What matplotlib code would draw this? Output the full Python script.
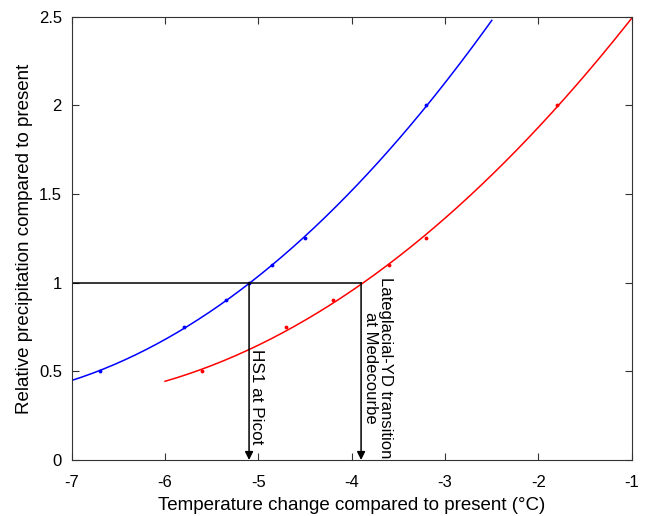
import matplotlib
matplotlib.use("Agg")
import matplotlib.pyplot as plt
import numpy as np

plt.rcParams['font.family'] = ['Liberation Sans', 'DejaVu Sans']
plt.rcParams['axes.unicode_minus'] = False

# data
blue_x = [-6.7, -5.8, -5.35, -5.1, -4.85, -4.5, -3.2]
blue_y = [0.5, 0.75, 0.9, 1.0, 1.1, 1.25, 2.0]
red_x = [-5.6, -4.7, -4.2, -3.6, -3.2, -1.8]
red_y = [0.5, 0.75, 0.9, 1.1, 1.25, 2.0]

blue_range = (-7.0, -2.5)
red_range = (-6.0, -1.0)

hs1_x = -5.1
yd_x = -3.9
ref_y = 1.0

fig = plt.figure(figsize=(6.46, 5.16), dpi=100)
ax = fig.add_axes([0.111, 0.1085, 0.867, 0.859])

# quadratic fits through the points
for xs, ys, rng, col in [(blue_x, blue_y, blue_range, 'blue'),
                         (red_x, red_y, red_range, 'red')]:
    p = np.polyfit(xs, ys, 2)
    xx = np.linspace(rng[0], rng[1], 200)
    ax.plot(xx, np.polyval(p, xx), color=col, linewidth=1.1)
    ax.plot(xs, ys, '.', color=col, markersize=3.5)

# reference lines and arrows
ax.plot([-7, yd_x], [ref_y, ref_y], color='black', linewidth=1.1)
for xv in [hs1_x, yd_x]:
    ax.annotate('', xy=(xv, 0), xytext=(xv, ref_y),
                arrowprops=dict(arrowstyle='-|>', color='black', lw=1.1,
                                mutation_scale=12, shrinkA=0, shrinkB=0))

ax.text(-5.02, 0.355, 'HS1 at Picot', rotation=-90, ha='center', va='center',
        fontsize=12.3)
ax.text(-3.72, 0.52, 'Lateglacial-YD transition\nat Medecourbe', rotation=-90,
        ha='center', va='center', multialignment='center', fontsize=12,
        linespacing=0.95)

ax.set_xlim(-7, -1)
ax.set_ylim(0, 2.5)
ax.set_xticks(np.arange(-7, -0.5, 1))
ax.set_yticks([0, 0.5, 1, 1.5, 2, 2.5])
ax.set_yticklabels(['0', '0.5', '1', '1.5', '2', '2.5'])
ax.tick_params(direction='in', top=True, right=True, length=5, labelsize=12,
               color='#333333')
ax.tick_params(axis='x', pad=11)
ax.tick_params(axis='y', pad=7)
for s in ax.spines.values():
    s.set_color('#333333')
ax.set_xlabel('Temperature change compared to present (°C)', fontsize=13.5,
              labelpad=5)
ax.set_ylabel('Relative precipitation compared to present', fontsize=13.5,
              labelpad=4)

plt.savefig('out.png', dpi=100)
